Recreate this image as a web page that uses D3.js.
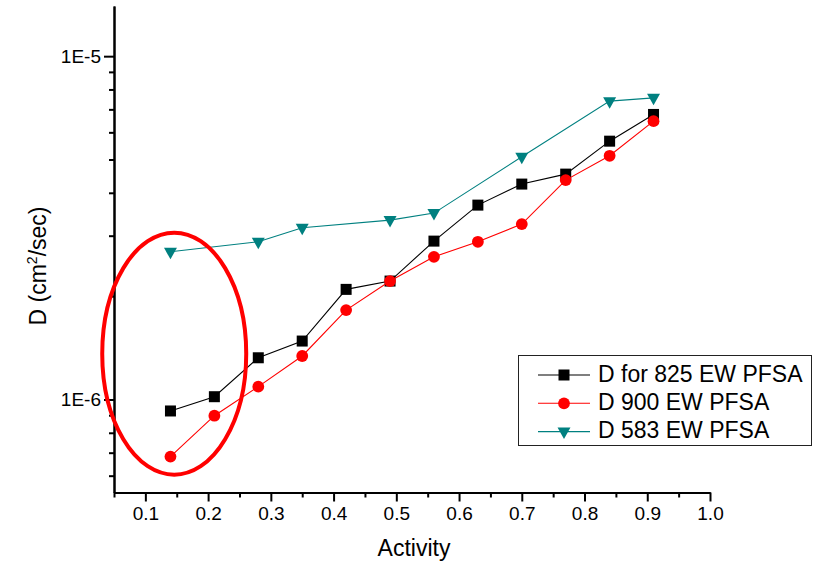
<!DOCTYPE html>
<html>
<head>
<meta charset="utf-8">
<script src="https://cdn.jsdelivr.net/npm/d3@7"></script>
<style>
  html, body { margin: 0; padding: 0; background: #fff; }
  svg { display: block; font-family: "Liberation Sans", Arial, sans-serif; }
</style>
</head>
<body>
<svg id="chart" width="821" height="563"></svg>
<script>
// ---- data ----
const activity825 = [0.14, 0.21, 0.28, 0.35, 0.42, 0.49, 0.56, 0.63, 0.70, 0.77, 0.84, 0.91];
const d825 = [9.26e-7, 1.019e-6, 1.323e-6, 1.480e-6, 2.093e-6, 2.213e-6, 2.893e-6, 3.683e-6, 4.241e-6, 4.534e-6, 5.655e-6, 6.765e-6];
const activity900 = [0.14, 0.21, 0.28, 0.35, 0.42, 0.49, 0.56, 0.63, 0.70, 0.77, 0.84, 0.91];
const d900 = [6.82e-7, 8.97e-7, 1.090e-6, 1.339e-6, 1.822e-6, 2.213e-6, 2.604e-6, 2.880e-6, 3.243e-6, 4.355e-6, 5.127e-6, 6.468e-6];
const activity583 = [0.14, 0.28, 0.35, 0.49, 0.56, 0.70, 0.84, 0.91];
const d583 = [2.693e-6, 2.880e-6, 3.163e-6, 3.331e-6, 3.491e-6, 5.091e-6, 7.396e-6, 7.561e-6];
const seriesNames = ["D for 825 EW PFSA", "D 900 EW PFSA", "D 583 EW PFSA"];
const xMajorTicks = [0.1, 0.2, 0.3, 0.4, 0.5, 0.6, 0.7, 0.8, 0.9, 1.0];
const xMinorTicks = [0.05, 0.15, 0.25, 0.35, 0.45, 0.55, 0.65, 0.75, 0.85, 0.95];
const yMajorTicks = [1e-6, 1e-5];
const yMajorLabels = ["1E-6", "1E-5"];
const yMinorTicks = [6e-7, 7e-7, 8e-7, 9e-7, 2e-6, 3e-6, 4e-6, 5e-6, 6e-6, 7e-6, 8e-6, 9e-6];
const xDomain = [0.05, 1.0];
const yDomain = [5.36e-7, 1.4e-5];
// annotation ellipse (data coords of centre)
const ellipseCenter = [0.146, 1.36e-6];

// ---- layout ----
const svg = d3.select("#chart");
const x = d3.scaleLinear().domain(xDomain).range([114, 710]);
const y = d3.scaleLog().domain(yDomain).range([492.5, 6]);

const tickFont = "19px";

// X axis minor
const xMinor = svg.append("g").attr("transform", "translate(0,492.5)")
  .call(d3.axisBottom(x).tickValues(xMinorTicks).tickSize(5).tickSizeOuter(0).tickFormat(""));
// X axis major
const xMajor = svg.append("g").attr("transform", "translate(0,492.5)")
  .call(d3.axisBottom(x).tickValues(xMajorTicks).tickSize(9).tickSizeOuter(0).tickPadding(5)
    .tickFormat(d3.format(".1f")));
// Y axis minor
const yMinor = svg.append("g").attr("transform", "translate(114,0)")
  .call(d3.axisLeft(y).tickValues(yMinorTicks).tickSize(5).tickSizeOuter(0).tickFormat(""));
// Y axis major
const yMajor = svg.append("g").attr("transform", "translate(114,0)")
  .call(d3.axisLeft(y).tickValues(yMajorTicks).tickSize(10).tickSizeOuter(0).tickPadding(3)
    .tickFormat((d, i) => yMajorLabels[i]));

[xMinor, xMajor, yMinor, yMajor].forEach(g => {
  g.attr("font-size", null).attr("font-family", null);
  g.select(".domain").attr("stroke", "#000").attr("stroke-width", 2);
  g.selectAll(".tick line").attr("stroke", "#000").attr("stroke-width", 2);
  g.selectAll(".tick text").attr("fill", "#000").style("font-size", tickFont)
    .style("font-family", "'Liberation Sans', Arial, sans-serif");
});

// Axis titles
svg.append("text")
  .attr("x", 414).attr("y", 556)
  .attr("text-anchor", "middle")
  .style("font-size", "23px")
  .text("Activity");

const ylab = svg.append("text")
  .attr("transform", "translate(46,266) rotate(-90)")
  .attr("text-anchor", "middle")
  .style("font-size", "23px");
ylab.append("tspan").text("D (cm");
ylab.append("tspan").attr("dy", -9).style("font-size", "14px").text("2");
ylab.append("tspan").attr("dy", 9).text("/sec)");

// ---- series ----
const trianglePath = "M-6.5,-4L6.5,-4L0,7.5Z";
const series = [
  { xs: activity825, ys: d825, color: "#000000", marker: "square" },
  { xs: activity900, ys: d900, color: "#ff0000", marker: "circle" },
  { xs: activity583, ys: d583, color: "#008080", marker: "triangle" }
];

function drawMarker(g, type, color) {
  if (type === "square") {
    g.append("rect").attr("x", -5.5).attr("y", -5.5).attr("width", 11).attr("height", 11).attr("fill", color);
  } else if (type === "circle") {
    g.append("circle").attr("r", 5.9).attr("fill", color);
  } else {
    g.append("path").attr("d", trianglePath).attr("fill", color);
  }
}

const line = d3.line().x(d => x(d[0])).y(d => y(d[1]));

series.forEach(s => {
  const pts = s.xs.map((v, i) => [v, s.ys[i]]);
  svg.append("path").datum(pts)
    .attr("d", line)
    .attr("fill", "none")
    .attr("stroke", s.color)
    .attr("stroke-width", 1.1);
  svg.append("g").selectAll("g").data(pts).join("g")
    .attr("transform", d => `translate(${x(d[0])},${y(d[1])})`)
    .each(function () { drawMarker(d3.select(this), s.marker, s.color); });
});

// ---- legend ----
const legend = svg.append("g");
legend.append("rect")
  .attr("x", 518.5).attr("y", 355.5).attr("width", 293).attr("height", 90)
  .attr("fill", "#fff").attr("stroke", "#222").attr("stroke-width", 1);
series.forEach((s, i) => {
  const cy = 375 + i * 28.3;
  const g = legend.append("g");
  g.append("line").attr("x1", 538).attr("x2", 590).attr("y1", cy).attr("y2", cy)
    .attr("stroke", s.color).attr("stroke-width", 1.1);
  drawMarker(g.append("g").attr("transform", `translate(564,${cy})`), s.marker, s.color);
  g.append("text").attr("x", 598).attr("y", cy + 6.8)
    .style("font-size", "23px").attr("fill", "#000").text(seriesNames[i]);
});

// ---- annotation ellipse ----
svg.append("ellipse")
  .attr("cx", x(ellipseCenter[0])).attr("cy", y(ellipseCenter[1]))
  .attr("rx", 72).attr("ry", 121)
  .attr("fill", "none").attr("stroke", "#ff0000").attr("stroke-width", 4);
</script>
</body>
</html>
